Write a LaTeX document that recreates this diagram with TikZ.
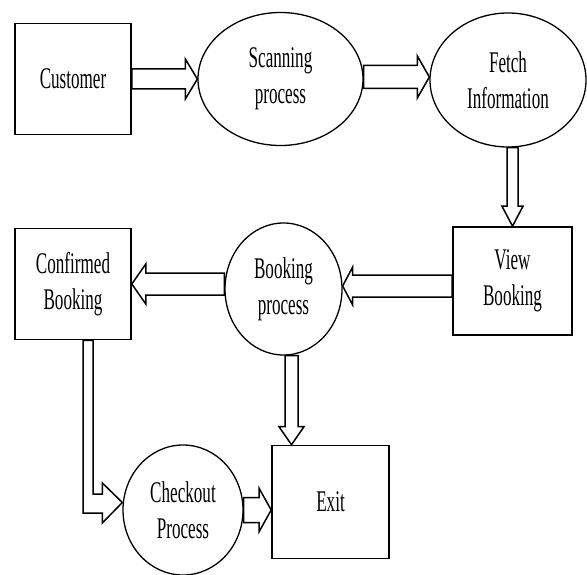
\documentclass[tikz,border=0pt]{standalone}
\usepackage{fontspec}
\setmainfont[FakeStretch=0.57]{Liberation Serif}
\usetikzlibrary{shapes.geometric,calc}
\tikzset{
  rectnode/.style 2 args={draw, rectangle, line width=1.6pt, minimum width=#1pt, minimum height=#2pt},
  ellnode/.style 2 args={draw, ellipse, line width=1.3pt, minimum width=#1pt, minimum height=#2pt},
  arrowline/.style={draw, line width=1.5pt, line join=miter},
  barrow/.style n args={3}{arrowline, to path={
    let \p1=(\tikztostart), \p2=(\tikztotarget), \p3=($(\p2)!#3!(\p1)$) in
    ($(\p1)!#1!90:(\p2)$) -- ($(\p3)!#1!90:(\p2)$) -- ($(\p3)!#2!90:(\p2)$) -- (\p2)
    -- ($(\p3)!#2!-90:(\p2)$) -- ($(\p3)!#1!-90:(\p2)$) -- ($(\p1)!#1!-90:(\p2)$) -- cycle}}
}
\begin{document}
\begin{tikzpicture}[x=1pt,y=-1pt,
  every node/.style={font=\fontsize{30}{36}\selectfont, align=center, inner sep=0pt}]
\useasboundingbox (0,0) rectangle (587,575);
\node[rectnode={116}{111}] (cust) at (73,79) {Customer};
\node[ellnode={165}{133}] (scan) at (280.5,79) {Scanning\\process};
\node[ellnode={156}{134}] (fetch) at (508,80) {Fetch\\Information};
\node[rectnode={119}{108}] (view) at (512.5,281) {View\\Booking};
\node[ellnode={117}{132}] (book) at (283.5,289) {Booking\\process};
\node[rectnode={116}{111}] (conf) at (73,284) {Confirmed\\Booking};
\node[ellnode={120}{130}] (check) at (183,510) {Checkout\\Process};
\node[rectnode={117}{113}] (exit) at (330.5,502) {Exit};

\draw[barrow={10pt}{20pt}{12pt}] (cust.east) to (scan.west);
\draw[barrow={11.5pt}{21pt}{12pt}] ([yshift=2pt]scan.east) to ([yshift=3pt]fetch.west);
\draw[barrow={5.5pt}{10.5pt}{20pt}] (view.north |- fetch.south) to (view.north);
\draw[barrow={11pt}{19pt}{10pt}] ([yshift=-5pt]view.west) to ([yshift=3pt]book.east);
\draw[barrow={11pt}{20pt}{14pt}] ([yshift=5pt]book.west) to (conf.east);
\draw[barrow={12.5pt}{21.5pt}{12pt}] (check.east) to (exit.west |- check.east);
\draw[barrow={6.5pt}{12.5pt}{18pt}] ([xshift=8pt]book.south) to ([xshift=8pt]book.south |- exit.north);
\draw[arrowline] let \p1=(conf.south), \p2=(check.west) in
  (\x1+10pt,\y1) -- (\x1+10pt,\y2-3pt) -- (\x2-20pt,\y2-3pt) -- (\x2-20pt,\y2-13pt)
  -- (\x2,\y2+7.5pt) -- (\x2-20pt,\y2+27pt) -- (\x2-20pt,\y2+16pt) -- (\x1+20pt,\y2+16pt)
  -- (\x1+20pt,\y1) -- cycle;
\end{tikzpicture}
\end{document}
